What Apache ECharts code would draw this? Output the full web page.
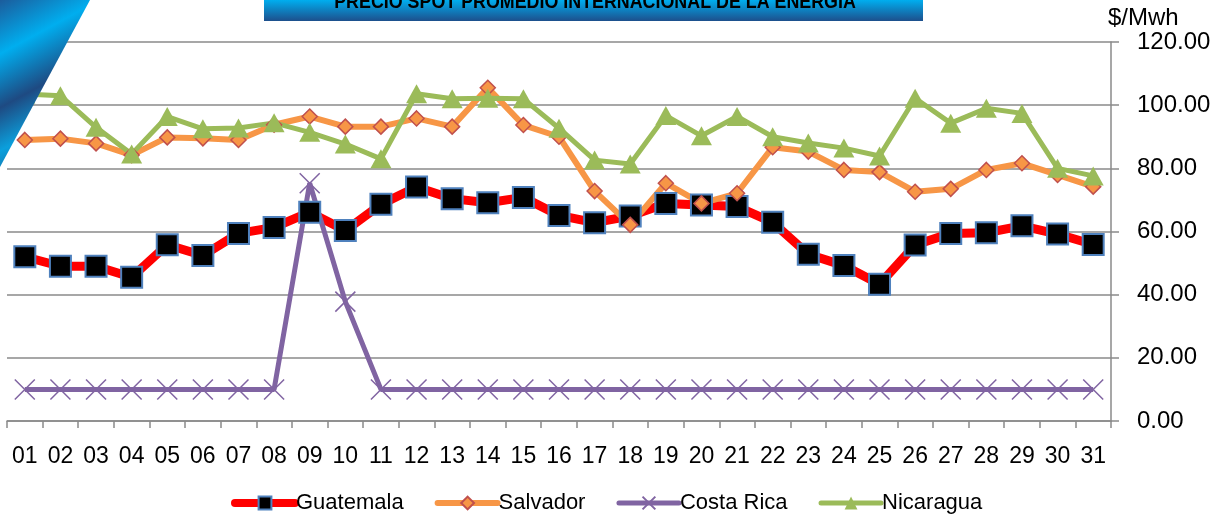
<!DOCTYPE html>
<html>
<head>
<meta charset="utf-8">
<script src="https://cdn.jsdelivr.net/npm/echarts@6/dist/echarts.min.js"></script>
<style>
  html, body { margin: 0; padding: 0; background: #fff; }
  #main { width: 1221px; height: 515px; }
</style>
</head>
<body>
<div id="main"></div>
<script>
// dias del mes
const days = ['01','02','03','04','05','06','07','08','09','10','11','12','13','14','15','16',
  '17','18','19','20','21','22','23','24','25','26','27','28','29','30','31'];

const guatemala = [52.0, 49.0, 49.0, 45.5, 55.8, 52.4, 59.4, 61.3, 66.1, 60.3, 68.6, 74.1, 70.4, 69.1, 70.8, 65.1,
  62.8, 64.9, 68.9, 68.4, 67.9, 62.9, 52.8, 49.2, 43.3, 55.7, 59.4, 59.6, 61.8, 59.2, 55.9];
const salvador = [89.0, 89.4, 87.9, 84.2, 89.8, 89.5, 89.0, 93.8, 96.4, 93.2, 93.2, 95.8, 93.2, 105.5, 93.7, 90.0,
  72.8, 62.1, 75.3, 68.9, 72.1, 86.7, 85.3, 79.5, 78.8, 72.6, 73.5, 79.5, 81.6, 77.9, 74.2];
const costaRica = [10, 10, 10, 10, 10, 10, 10, 10, 75.3, 37.8, 10, 10, 10, 10, 10, 10,
  10, 10, 10, 10, 10, 10, 10, 10, 10, 10, 10, 10, 10, 10, 10];
const nicaragua = [103.5, 103.0, 93.0, 84.5, 96.4, 92.5, 92.8, 94.4, 91.4, 87.7, 83.0, 103.6, 102.0, 102.2, 102.0, 92.7,
  82.6, 81.4, 96.7, 90.3, 96.4, 90.0, 88.0, 86.4, 83.9, 102.2, 94.3, 99.0, 97.4, 80.0, 77.6];

const titleText = 'PRECIO SPOT PROMEDIO INTERNACIONAL DE LA ENERGIA';
const font = '"Liberation Sans", Arial, sans-serif';
const gridGray = '#8a8a8a';

const chart = echarts.init(document.getElementById('main'), null, { renderer: 'canvas' });

const option = {
  animation: false,
  textStyle: { fontFamily: font },
  grid: { left: 7, right: 110, top: 42, bottom: 94 },
  legend: {
    top: 487,
    left: 226,
    itemWidth: 60,
    itemHeight: 16,
    itemGap: 31,
    textStyle: { fontSize: 22, color: '#000', fontFamily: font, padding: [0, 0, 0, -4] },
    data: [
      { name: 'Guatemala', lineStyle: { width: 8, cap: 'round' } },
      { name: 'Salvador', lineStyle: { width: 6, cap: 'round' } },
      { name: 'Costa Rica', lineStyle: { width: 5, cap: 'round' } },
      { name: 'Nicaragua', lineStyle: { width: 5, cap: 'round' } }
    ]
  },
  xAxis: {
    type: 'category',
    data: days,
    boundaryGap: true,
    axisLine: { lineStyle: { color: gridGray, width: 1.5 } },
    axisTick: { show: true, length: 7, lineStyle: { color: gridGray, width: 1.5 } },
    axisLabel: { interval: 0, fontSize: 23, color: '#000', margin: 24 }
  },
  yAxis: {
    type: 'value',
    position: 'right',
    min: 0,
    max: 120,
    interval: 20,
    name: '$/Mwh',
    nameLocation: 'end',
    nameGap: 5,
    nameTextStyle: { fontSize: 24, color: '#000', align: 'left', padding: [0, 0, 0, -3] },
    axisLine: { show: true, lineStyle: { color: gridGray, width: 1.5 } },
    axisTick: { show: true, length: 8, lineStyle: { color: gridGray, width: 1.5 } },
    splitLine: { lineStyle: { color: gridGray, width: 1.5 } },
    axisLabel: {
      fontSize: 24,
      color: '#000',
      margin: 26,
      formatter: function (v) { return v.toFixed(2); }
    }
  },
  series: [
    {
      name: 'Guatemala',
      type: 'line',
      data: guatemala,
      symbol: 'rect',
      symbolSize: 21,
      lineStyle: { color: '#ff0000', width: 9 },
      itemStyle: { color: '#000000', borderColor: '#4f81bd', borderWidth: 2 }
    },
    {
      name: 'Salvador',
      type: 'line',
      data: salvador,
      symbol: 'diamond',
      symbolSize: 15,
      lineStyle: { color: '#f79646', width: 6 },
      itemStyle: { color: '#f79646', borderColor: '#c0504d', borderWidth: 1.5 }
    },
    {
      name: 'Costa Rica',
      type: 'line',
      data: costaRica,
      symbol: 'path://M0,0L10,10M10,0L0,10',
      symbolSize: 20,
      lineStyle: { color: '#8064a2', width: 5 },
      itemStyle: { color: 'none', borderColor: '#8064a2', borderWidth: 1.5 }
    },
    {
      name: 'Nicaragua',
      type: 'line',
      data: nicaragua,
      symbol: 'triangle',
      symbolSize: [21, 19],
      lineStyle: { color: '#9bbb59', width: 5 },
      itemStyle: { color: '#9bbb59' }
    }
  ],
  graphic: [
    {
      // franja azul de la esquina
      type: 'polygon',
      z: 100,
      shape: { points: [[0, 0], [90, 0], [0, 167]] },
      style: {
        fill: new echarts.graphic.LinearGradient(0, 0, 1, 1, [
          { offset: 0, color: '#1b5c9c' },
          { offset: 0.25, color: '#00aeef' },
          { offset: 0.5, color: '#1e4a82' },
          { offset: 0.7, color: '#0b9fdc' },
          { offset: 1, color: '#1d3e6e' }
        ])
      }
    },
    {
      type: 'rect',
      z: 100,
      shape: { x: 264, y: 0, width: 659, height: 21 },
      style: {
        fill: new echarts.graphic.LinearGradient(0, 0, 0, 1, [
          { offset: 0, color: '#00aeef' },
          { offset: 1, color: '#1d4f8c' }
        ])
      }
    },
    {
      type: 'text',
      z: 101,
      x: 595,
      y: 13,
      scaleX: 0.85,
      style: {
        text: titleText,
        fill: '#000',
        fontSize: 21,
        fontWeight: 'bold',
        fontFamily: font,
        align: 'center',
        verticalAlign: 'bottom'
      }
    }
  ]
};

chart.setOption(option);
</script>
</body>
</html>
